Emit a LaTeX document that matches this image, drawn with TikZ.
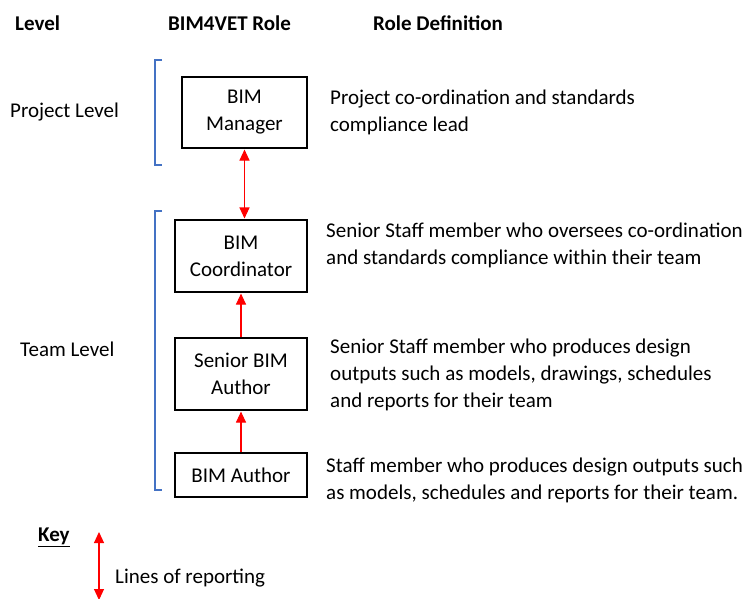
\documentclass[tikz,border=0pt]{standalone}
\usepackage{fontspec}
\setmainfont{Carlito}
\usetikzlibrary{arrows.meta}
\definecolor{brblue}{HTML}{4472C4}
\definecolor{repred}{HTML}{FF0000}
\newcommand{\basefont}{\fontsize{21}{27}\selectfont}
\tikzset{
  rolebox/.style={draw=black, line width=1.5pt, align=center, inner sep=0pt},
  deftext/.style={align=left, anchor=west, inner sep=0pt},
  lvl/.style={anchor=west, inner sep=0pt},
  hdr/.style={anchor=west, inner sep=0pt, font=\basefont\bfseries},
  bracket/.style={draw=brblue, line width=2.8pt},
  rep/.style={draw=repred, fill=repred, line width=1.1pt},
  reptip/.style={Triangle[width=10pt,length=11pt]}
}
\begin{document}
\begin{tikzpicture}[x=1pt,y=-1pt, font=\basefont]
\useasboundingbox (0,0) rectangle (747,598);
% headers
\node[hdr] (h1) at (15,23) {Level};
\node[hdr] (h2) at (168,23) {BIM4VET Role};
\node[hdr] (h3) at (373,23) {Role Definition};
% levels
\node[lvl] (pl) at (10,112) {Project Level};
\node[lvl] (tl) at (20,349) {Team Level};
% brackets
\draw[bracket] (162,60) -- (155,60) -- (155,165) -- (162,165);
\draw[bracket] (162,211) -- (155,211) -- (155,490) -- (162,490);
% boxes
\node[rolebox, minimum width=125pt, minimum height=71pt] (mgr) at (244.5,112.5) {BIM\\Manager};
\node[rolebox, minimum width=132pt, minimum height=72pt] (crd) at (241,256) {BIM\\Coordinator};
\node[rolebox, minimum width=132pt, minimum height=72pt] (sen) at (241,374) {Senior BIM\\Author};
\node[rolebox, minimum width=132pt, minimum height=44pt] (aut) at (241,475) {BIM Author};
% arrows
\draw[rep, {Triangle[width=10pt,length=11pt]}-{Triangle[width=10pt,length=11pt]}, shorten <=0.8pt, shorten >=0.8pt] (mgr.south) -- (mgr.south |- crd.north);
\draw[rep, -{Triangle[width=10pt,length=11pt]}, shorten >=0.8pt] (sen.north) -- (crd.south);
\draw[rep, -{Triangle[width=10pt,length=11pt]}, shorten >=0.8pt] (aut.north) -- (sen.south);
% definitions
\node[deftext] (d1) at (330,112) {Project co-ordination and standards\\compliance lead};
\node[deftext] (d2) at (326,245) {Senior Staff member who oversees co-ordination\\and standards compliance within their team};
\node[deftext] (d3) at (330,375) {Senior Staff member who produces design\\outputs such as models, drawings, schedules\\and reports for their team};
\node[deftext] (d4) at (326,480) {Staff member who produces design outputs such\\as models, schedules and reports for their team.};
% key
\node[lvl] (key) at (38,537) {\underline{\textbf{Key}}};
\coordinate (k1) at (99,532);
\coordinate (k2) at (99,600);
\draw[rep, {Triangle[width=10pt,length=11pt]}-{Triangle[width=10pt,length=11pt]}] (k1) -- (k2);
\node[lvl] (kl) at (115,578) {Lines of reporting};
\end{tikzpicture}
\end{document}
